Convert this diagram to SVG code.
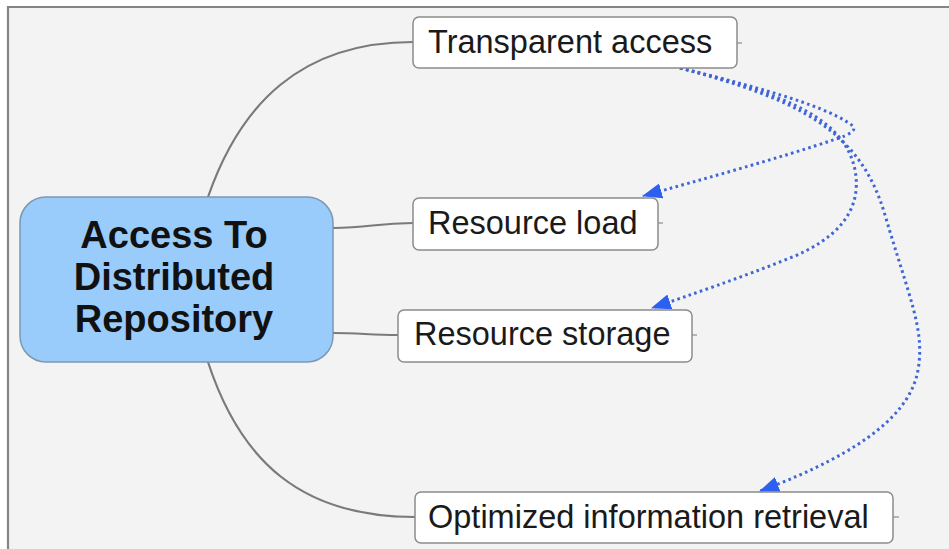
<svg xmlns="http://www.w3.org/2000/svg" width="949" height="549" viewBox="0 0 949 549">
  <defs>
    <style>
      .canvas { fill: #f3f3f3; }
      .frame { stroke: #858585; stroke-width: 2.2; fill: none; }
      .root-box { fill: #99ccfb; stroke: #7b98b4; stroke-width: 1.5; }
      .root-text { font-family: "Liberation Sans", Arial, sans-serif; font-weight: bold; font-size: 38px; fill: #111; text-anchor: middle; }
      .topic-box { fill: #ffffff; stroke: #8c8c8c; stroke-width: 1.5; }
      .topic-text { font-family: "Liberation Sans", Arial, sans-serif; font-size: 32.5px; fill: #1a1a1a; }
      .branch { fill: none; stroke: #7a7a7a; stroke-width: 2.2; }
      .tick { fill: none; stroke: #8c8c8c; stroke-width: 1.2; }
      .relation { fill: none; stroke: #3f66d6; stroke-width: 3; stroke-dasharray: 2.6 3.4; }
    </style>
    <marker id="arrowhead" markerUnits="userSpaceOnUse" viewBox="0 0 18 14" markerWidth="20" markerHeight="16" refX="17" refY="7" orient="auto">
      <path d="M0,0 L18,7 L0,14 z" fill="#2d5ff0"/>
    </marker>
  </defs>

  <!-- canvas with top and left frame lines -->
  <rect class="canvas" x="8" y="7" width="941" height="542"/>
  <path class="frame" d="M8,549 V7 H949"/>

  <!-- branches from the central topic and relation arrows -->
  <g id="connectors">
    <path class="branch" d="M208,197 C240,105 300,42 413,42"/>
    <path class="branch" d="M333,228 C370,228 375,223 413,223"/>
    <path class="branch" d="M333,333 C360,333 370,335 398,335"/>
    <path class="branch" d="M208,362 C240,460 300,517 415,517"/>

    <path class="relation" marker-end="url(#arrowhead)" d="M680,68 C770,90 830,108 853,126 Q858,132 836,139 C780,158 700,180 643,196"/>
    <path class="relation" marker-end="url(#arrowhead)" d="M680,68 C790,95 845,120 855,170 C863,212 835,240 790,258 C740,278 690,295 652,308"/>
    <path class="relation" marker-end="url(#arrowhead)" d="M680,68 C800,100 860,130 885,215 C910,300 925,330 918,370 C911,410 870,450 760,491"/>
  </g>

  <g id="root">
    <rect class="root-box" x="20" y="197" width="313" height="165" rx="26"/>
    <text class="root-text" x="174" y="248">Access To</text>
    <text class="root-text" x="174" y="290">Distributed</text>
    <text class="root-text" x="174" y="332">Repository</text>
  </g>

  <g id="transparent-access">
    <rect class="topic-box" x="413" y="17" width="324" height="51" rx="6"/>
    <path class="tick" d="M737,43 H742"/>
    <text class="topic-text" x="428" y="53">Transparent access</text>
  </g>

  <g id="resource-load">
    <rect class="topic-box" x="413" y="198" width="245" height="52" rx="6"/>
    <path class="tick" d="M658,223 H663"/>
    <text class="topic-text" x="428" y="234">Resource load</text>
  </g>

  <g id="resource-storage">
    <rect class="topic-box" x="398" y="310" width="294" height="52" rx="6"/>
    <path class="tick" d="M692,335 H697"/>
    <text class="topic-text" x="414" y="345">Resource storage</text>
  </g>

  <g id="optimized-information-retrieval">
    <rect class="topic-box" x="415" y="492" width="478" height="51" rx="6"/>
    <path class="tick" d="M893,517 H899"/>
    <text class="topic-text" x="428" y="528">Optimized information retrieval</text>
  </g>
</svg>
